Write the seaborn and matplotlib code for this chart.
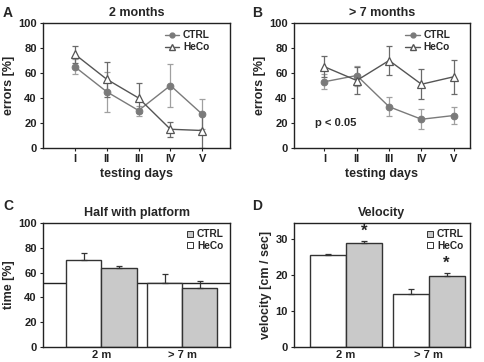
import numpy as np
import pandas as pd
import seaborn as sns
import matplotlib
matplotlib.use("Agg")
import matplotlib.pyplot as plt
from matplotlib.lines import Line2D

sns.set_theme(style="ticks")
plt.rcParams['font.family'] = ['Liberation Sans', 'DejaVu Sans']
plt.rcParams['font.weight'] = 'bold'

# ---------------- data ----------------
days = ["I", "II", "III", "IV", "V"]

a_ctrl = [65, 45, 30, 50, 27]
a_ctrl_err = [6, 16, 4, 17, 12]
a_heco = [75, 55, 40, 15, 14]
a_heco_err = [7, 14, 12, 6, 14]

b_ctrl = [53, 58, 33, 23, 26]
b_ctrl_err = [6, 8, 7.5, 8, 7]
b_heco = [65, 54, 70, 51, 57]
b_heco_err = [8.5, 10.5, 11.5, 12, 13.5]

ages = ["2 m", "> 7 m"]
c_heco = [70, 52]
c_heco_err = [6, 7]
c_ctrl = [64, 47.5]
c_ctrl_err = [1, 6]
c_chance = 52

d_heco = [25.5, 14.8]
d_heco_err = [0.4, 1.3]
d_ctrl = [28.8, 19.7]
d_ctrl_err = [0.6, 1.0]
d_signif = ["*", "*"]

CTRL_C = "#7a7a7a"
HECO_C = "#555555"
BAR_GRAY = "#c9c9c9"
EDGE = "#333333"

fig = plt.figure(figsize=(4.85, 3.62), dpi=100)

def pos(l, r, t, b):
    W, H = 485, 362
    return [l / W, 1 - b / H, (r - l) / W, (b - t) / H]

axA = fig.add_axes(pos(43, 230, 23, 148))
axB = fig.add_axes(pos(294, 470, 23, 148))
axC = fig.add_axes(pos(43, 230, 223, 347))
axD = fig.add_axes(pos(294, 470, 223, 347))

def style(ax):
    for s in ax.spines.values():
        s.set_visible(True)
        s.set_color("#222222")
        s.set_linewidth(1.0)
    ax.tick_params(direction="out", length=2.5, width=0.8, labelsize=8, pad=2, colors="#222222")
    for lab in ax.get_xticklabels() + ax.get_yticklabels():
        lab.set_fontweight("bold")

def line_panel(ax, ctrl, ctrl_err, heco, heco_err, title, xlim):
    x = np.arange(1, len(days) + 1)
    df = pd.DataFrame({"x": np.concatenate([x, x]),
                       "y": ctrl + heco,
                       "g": ["CTRL"] * len(x) + ["HeCo"] * len(x)})
    ax.errorbar(x, ctrl, yerr=ctrl_err, fmt="none", ecolor="#a0a0a0", elinewidth=0.9, capsize=2, capthick=0.9, zorder=2)
    ax.errorbar(x, heco, yerr=heco_err, fmt="none", ecolor="#6a6a6a", elinewidth=0.9, capsize=2, capthick=0.9, zorder=2)
    sns.lineplot(data=df[df.g == "CTRL"], x="x", y="y", ax=ax, color=CTRL_C, lw=1.0,
                 marker="o", markersize=4.8, markerfacecolor=CTRL_C, markeredgecolor=CTRL_C, zorder=3)
    sns.lineplot(data=df[df.g == "HeCo"], x="x", y="y", ax=ax, color=HECO_C, lw=1.0,
                 marker="^", markersize=6, markerfacecolor="white", markeredgecolor=HECO_C,
                 markeredgewidth=0.9, zorder=4)
    ax.set_xlim(*xlim)
    ax.set_ylim(0, 100)
    ax.set_xticks(x)
    ax.set_xticklabels(days)
    ax.set_yticks([0, 20, 40, 60, 80, 100])
    ax.set_xlabel("testing days", fontsize=9, fontweight="bold", labelpad=3)
    ax.set_ylabel("errors [%]", fontsize=9, fontweight="bold", labelpad=2)
    ax.set_title(title, fontsize=9, fontweight="bold", pad=5)
    handles = [Line2D([], [], color=CTRL_C, lw=1.0, marker="o", markersize=3.5, markerfacecolor=CTRL_C),
               Line2D([], [], color=HECO_C, lw=1.0, marker="^", markersize=4, markerfacecolor="white",
                      markeredgecolor=HECO_C)]
    ax.legend(handles, ["CTRL", "HeCo"], loc="upper right", frameon=False,
              handlelength=1.4, handletextpad=0.4, labelspacing=0.2, borderaxespad=0.3,
              bbox_to_anchor=(0.93, 1.0), prop={"weight": "bold", "size": 7.3})
    style(ax)

line_panel(axA, a_ctrl, a_ctrl_err, a_heco, a_heco_err, "2 months", (0, 5.87))
line_panel(axB, b_ctrl, b_ctrl_err, b_heco, b_heco_err, "> 7 months", (0.06, 5.5))
axB.text(0.7, 20, "p < 0.05", fontsize=8, fontweight="bold", va="center", ha="left")

def bar_panel(ax, heco, heco_err, ctrl, ctrl_err, title, ylabel, ylim, yticks, xlim):
    df = pd.DataFrame({"age": ages * 2, "v": heco + ctrl,
                       "g": ["HeCo"] * len(ages) + ["CTRL"] * len(ages)})
    sns.barplot(data=df, x="age", y="v", hue="g", hue_order=["HeCo", "CTRL"], order=ages,
                palette={"HeCo": "white", "CTRL": BAR_GRAY}, edgecolor=EDGE, linewidth=1.0,
                width=0.87, errorbar=None, legend=False, ax=ax, zorder=2)
    bars = [p for p in ax.patches][:4]
    errs = heco_err + ctrl_err
    vals = heco + ctrl
    for p, v, e in zip(bars, vals, errs):
        cx = p.get_x() + p.get_width() / 2
        ax.errorbar([cx], [v], yerr=[[0], [e]], fmt="none", ecolor=EDGE, elinewidth=0.9,
                    capsize=2, capthick=0.9, zorder=3)
    ax.set_xlim(*xlim)
    ax.set_ylim(*ylim)
    ax.set_yticks(yticks)
    ax.set_xlabel("")
    ax.set_ylabel(ylabel, fontsize=9, fontweight="bold", labelpad=2)
    ax.set_title(title, fontsize=9, fontweight="bold", pad=5)
    handles = [Line2D([], [], ls="none", marker="s", markersize=5, markerfacecolor=BAR_GRAY,
                      markeredgecolor=EDGE, markeredgewidth=0.7),
               Line2D([], [], ls="none", marker="s", markersize=5, markerfacecolor="white",
                      markeredgecolor=EDGE, markeredgewidth=0.7)]
    ax.legend(handles, ["CTRL", "HeCo"], loc="upper right", frameon=False,
              handlelength=0.7, handletextpad=0.3, labelspacing=0.15, borderaxespad=0.2,
              prop={"weight": "bold", "size": 7.3})
    style(ax)
    ax.tick_params(axis="x", length=0)
    return bars

bar_panel(axC, c_heco, c_heco_err, c_ctrl, c_ctrl_err, "Half with platform", "time [%]",
          (0, 100), [0, 20, 40, 60, 80, 100], (-0.72, 1.59))
axC.axhline(c_chance, color="#222222", lw=1.0, zorder=1)

barsD = bar_panel(axD, d_heco, d_heco_err, d_ctrl, d_ctrl_err, "Velocity", "velocity [cm / sec]",
                  (0, 34.5), [0, 10, 20, 30], (-0.63, 1.5))
for p, v, e, s in zip(barsD[2:], d_ctrl, d_ctrl_err, d_signif):
    cx = p.get_x() + p.get_width() / 2
    axD.text(cx, v + e + 0.6, s, ha="center", va="bottom", fontsize=12, fontweight="bold")

for lab, (x, y) in zip("ABCD", [(3, 6), (252, 6), (3, 199), (252, 199)]):
    fig.text(x / 485, 1 - y / 362, lab, fontsize=10, fontweight="bold", va="top", ha="left")

fig.savefig("out.png", dpi=100)
